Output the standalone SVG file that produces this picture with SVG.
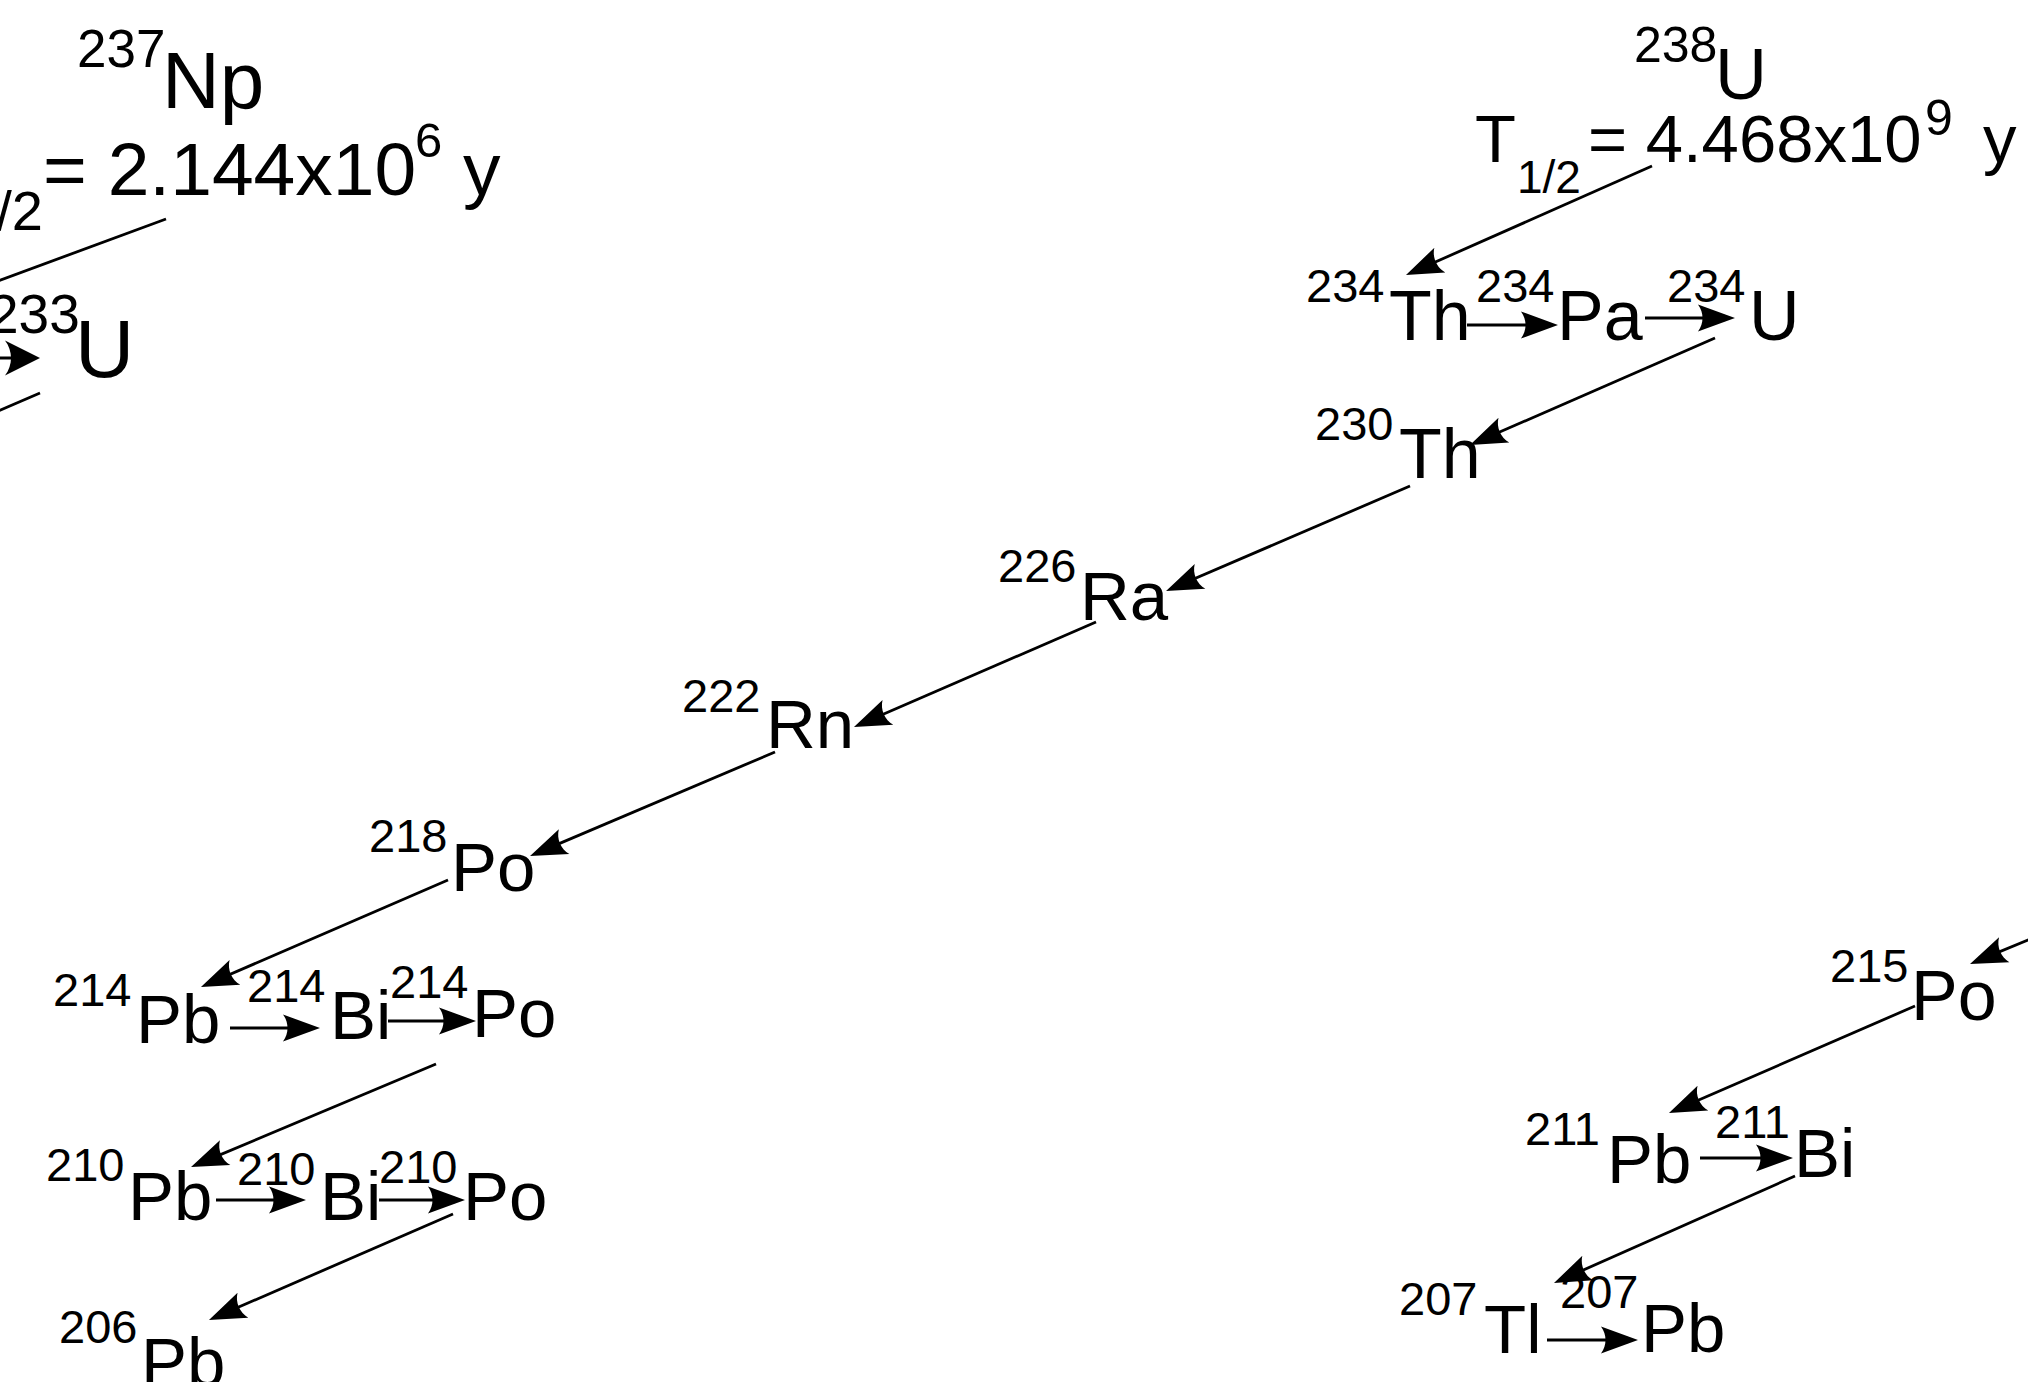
<svg xmlns="http://www.w3.org/2000/svg" width="2028" height="1382" viewBox="0 0 2028 1382">
<style>
text { font-family: "Liberation Sans", Arial, sans-serif; fill: #000; }
.m { font-size: 47px; }
.e { font-size: 69px; }
.c { stroke: #000; stroke-width: 2.8; fill: none; }
.a { marker-end: url(#ah); }
</style>
<defs>
<marker id="ah" markerUnits="userSpaceOnUse" orient="auto" overflow="visible" markerWidth="1" markerHeight="1" refX="0" refY="0">
<path d="M8,0 L-29,-13.5 C-23,-5.5 -23,5.5 -29,13.5 Z" fill="#000"/>
</marker>
<marker id="ahL" markerUnits="userSpaceOnUse" orient="auto" overflow="visible" markerWidth="1" markerHeight="1" refX="0" refY="0">
<path d="M8,0 L-27,-17.5 C-19,-7 -19,7 -27,17.5 Z" fill="#000"/>
</marker>
</defs>
<rect width="2028" height="1382" fill="#fff"/>

<g id="connectors">
<line class="c" x1="166" y1="219" x2="-40" y2="295"/>
<line class="c" x1="-20" y1="358" x2="32" y2="358" marker-end="url(#ahL)"/>
<line class="c" x1="40" y1="393" x2="-20" y2="419"/>

<line class="c a" x1="1652" y1="166" x2="1413.3" y2="271.8"/>
<line class="c a" x1="1467" y1="325" x2="1550" y2="325"/>
<line class="c a" x1="1645" y1="318" x2="1727" y2="318"/>
<line class="c a" x1="1715" y1="338" x2="1477.3" y2="441.8"/>
<line class="c a" x1="1410" y1="486" x2="1173.4" y2="587.8"/>
<line class="c a" x1="1096" y1="622" x2="861.3" y2="723.8"/>
<line class="c a" x1="775" y1="752" x2="537.4" y2="852.9"/>
<line class="c a" x1="448" y1="880" x2="208.3" y2="983.8"/>
<line class="c a" x1="230" y1="1028" x2="312" y2="1028"/>
<line class="c a" x1="388" y1="1021" x2="468" y2="1021"/>
<line class="c a" x1="436" y1="1064" x2="198.4" y2="1163.9"/>
<line class="c a" x1="216" y1="1200" x2="298" y2="1200"/>
<line class="c a" x1="379" y1="1200" x2="457" y2="1200"/>
<line class="c a" x1="453" y1="1214" x2="216.3" y2="1316.8"/>

<line class="c a" x1="2040" y1="935" x2="1977.4" y2="960.9"/>
<line class="c a" x1="1915" y1="1006" x2="1676.3" y2="1109.8"/>
<line class="c a" x1="1700" y1="1158" x2="1785" y2="1158"/>
<line class="c a" x1="1795" y1="1176" x2="1561.3" y2="1279.8"/>
<line class="c a" x1="1547" y1="1340" x2="1630" y2="1340"/>
</g>

<g id="np237"><text><tspan x="77" y="67" style="font-size:53px">237</tspan><tspan x="162" y="108" style="font-size:80px">Np</tspan></text></g>
<g id="np237-halflife"><text><tspan x="-35" y="230" style="font-size:56px">1/2</tspan><tspan x="43" y="195" style="font-size:75px">= 2.144x10</tspan><tspan x="415" y="157" style="font-size:49px">6</tspan><tspan x="463" y="195" style="font-size:75px">y</tspan></text></g>
<g id="u233"><text><tspan x="-12" y="333" style="font-size:55px">233</tspan><tspan x="75" y="377" style="font-size:82px">U</tspan></text></g>

<g id="u238"><text><tspan x="1634" y="62" style="font-size:50px">238</tspan><tspan x="1715" y="99" style="font-size:72px">U</tspan></text></g>
<g id="u238-halflife"><text><tspan x="1475" y="162" style="font-size:67px">T</tspan><tspan x="1517" y="193" style="font-size:46px">1/2</tspan><tspan x="1588" y="162" style="font-size:67px">= 4.468x10</tspan><tspan x="1925" y="135" style="font-size:50px">9</tspan><tspan x="1983" y="162" style="font-size:67px">y</tspan></text></g>

<g id="th234"><text><tspan class="m" x="1306" y="302">234</tspan><tspan x="1389" y="340" style="font-size:70px">Th</tspan></text></g>
<g id="pa234"><text><tspan class="m" x="1476" y="302">234</tspan><tspan x="1557" y="340" style="font-size:70px">Pa</tspan></text></g>
<g id="u234"><text><tspan class="m" x="1667" y="302">234</tspan><tspan x="1749" y="340" style="font-size:70px">U</tspan></text></g>
<g id="th230"><text><tspan class="m" x="1315" y="440">230</tspan><tspan x="1399" y="478" style="font-size:70px">Th</tspan></text></g>
<g id="ra226"><text><tspan class="m" x="998" y="582">226</tspan><tspan class="e" x="1080" y="620">Ra</tspan></text></g>
<g id="rn222"><text><tspan class="m" x="682" y="712">222</tspan><tspan class="e" x="766" y="748">Rn</tspan></text></g>
<g id="po218"><text><tspan class="m" x="369" y="852">218</tspan><tspan class="e" x="451" y="891">Po</tspan></text></g>
<g id="pb214"><text><tspan class="m" x="53" y="1006">214</tspan><tspan class="e" x="136" y="1043">Pb</tspan></text></g>
<g id="bi214"><text><tspan class="m" x="247" y="1002">214</tspan><tspan class="e" x="330" y="1039">Bi</tspan></text></g>
<g id="po214"><text><tspan class="m" x="390" y="998">214</tspan><tspan class="e" x="472" y="1037">Po</tspan></text></g>
<g id="pb210"><text><tspan class="m" x="46" y="1181">210</tspan><tspan class="e" x="128" y="1220">Pb</tspan></text></g>
<g id="bi210"><text><tspan class="m" x="237" y="1185">210</tspan><tspan class="e" x="320" y="1220">Bi</tspan></text></g>
<g id="po210"><text><tspan class="m" x="379" y="1183">210</tspan><tspan class="e" x="463" y="1220">Po</tspan></text></g>
<g id="pb206"><text><tspan class="m" x="59" y="1343">206</tspan><tspan class="e" x="141" y="1386">Pb</tspan></text></g>

<g id="po215"><text><tspan class="m" x="1830" y="982">215</tspan><tspan x="1911" y="1020" style="font-size:70px">Po</tspan></text></g>
<g id="pb211"><text><tspan class="m" x="1525" y="1145">211</tspan><tspan class="e" x="1607" y="1183">Pb</tspan></text></g>
<g id="bi211"><text><tspan class="m" x="1715" y="1138">211</tspan><tspan class="e" x="1794" y="1177">Bi</tspan></text></g>
<g id="tl207"><text><tspan class="m" x="1399" y="1315">207</tspan><tspan class="e" x="1484" y="1353">Tl</tspan></text></g>
<g id="pb207"><text><tspan class="m" x="1560" y="1308">207</tspan><tspan class="e" x="1641" y="1352">Pb</tspan></text></g>
</svg>
